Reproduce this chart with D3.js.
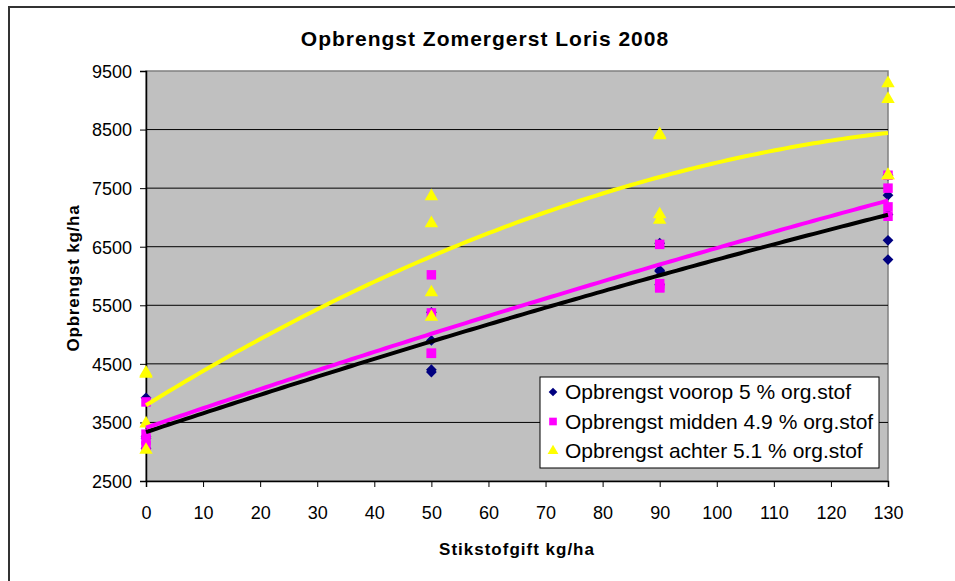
<!DOCTYPE html>
<html>
<head>
<meta charset="utf-8">
<script src="https://cdn.jsdelivr.net/npm/d3@7"></script>
<style>
  body { margin: 0; background: #fff; }
  svg { display: block; font-family: "Liberation Sans", Arial, sans-serif; }
</style>
</head>
<body>
<svg width="955" height="581"></svg>
<script>
// kg/ha per nitrogen level (some markers sit on top of each other)
const voorop = [
  [0, 3920], [0, 3260], [0, 3230], [0, 3060],
  [50, 5380], [50, 4900], [50, 4400], [50, 4360],
  [90, 6560], [90, 6100], [90, 6080], [90, 5850],
  [130, 7720], [130, 7380], [130, 7050], [130, 6610], [130, 6280]
];
const midden = [
  [0, 3850], [0, 3300], [0, 3200], [0, 3100],
  [50, 6020], [50, 5370], [50, 4680], [50, 4680],
  [90, 6540], [90, 5870], [90, 5800], [90, 5800],
  [130, 7720], [130, 7500], [130, 7180], [130, 7020]
];
const achter = [
  [0, 4350], [0, 4330], [0, 3480], [0, 3030],
  [50, 7360], [50, 6900], [50, 5720], [50, 5300],
  [90, 8420], [90, 8400], [90, 7050], [90, 6960],
  [130, 9290], [130, 9020], [130, 7720], [130, 7720]
];
const seriesNames = [
  'Opbrengst voorop 5 % org.stof',
  'Opbrengst midden 4.9 % org.stof',
  'Opbrengst achter 5.1 % org.stof'
];
const xTicks = d3.range(0, 131, 10);
const yTicks = [2500, 3500, 4500, 5500, 6500, 7500, 8500, 9500];

const svg = d3.select('svg');
const margin = { top: 71, right: 67, bottom: 100, left: 146 };
const width = 955, height = 581;
const innerWidth = width - margin.left - margin.right;
const innerHeight = height - margin.top - margin.bottom;

const x = d3.scaleLinear().domain([0, 130]).range([0, innerWidth]);
const y = d3.scaleLinear().domain([2500, 9500]).range([innerHeight, 0]);

// Excel style diamond (about as wide as tall)
const excelDiamond = {
  draw(context, size) {
    const h = Math.sqrt(size / 2);
    context.moveTo(0, -h);
    context.lineTo(h, 0);
    context.lineTo(0, h);
    context.lineTo(-h, 0);
    context.closePath();
  }
};

// outer frame (only top/left visible in the crop)
svg.append('path')
  .attr('d', 'M9,581 V7 H955')
  .attr('fill', 'none')
  .attr('stroke', '#333')
  .attr('stroke-width', 2);

const g = svg.append('g')
  .attr('transform', `translate(${margin.left},${margin.top})`);

g.append('rect')
  .attr('width', innerWidth)
  .attr('height', innerHeight)
  .attr('fill', '#c0c0c0')
  .attr('stroke', '#808080')
  .attr('stroke-width', 1.5);

// gridlines
g.selectAll('line.grid')
  .data(yTicks.slice(1, -1))
  .enter().append('line')
    .attr('x1', 0).attr('x2', innerWidth)
    .attr('y1', d => y(d)).attr('y2', d => y(d))
    .attr('stroke', '#000')
    .attr('stroke-width', 1);

// axes
const yAxis = g.append('g')
  .call(d3.axisLeft(y).tickValues(yTicks).tickSize(6).tickPadding(8).tickFormat(d3.format('d')));
const xAxis = g.append('g')
  .attr('transform', `translate(0,${innerHeight})`)
  .call(d3.axisBottom(x).tickValues(xTicks).tickSize(6).tickPadding(19).tickFormat(d3.format('d')));
[yAxis, xAxis].forEach(a => {
  a.attr('font-size', null).attr('font-family', null);
  a.select('.domain').attr('stroke', '#000').attr('stroke-width', 1.5);
  a.selectAll('.tick line').attr('stroke', '#000');
  a.selectAll('.tick text').style('font-size', '18px').attr('fill', '#000');
});
yAxis.selectAll('.tick text').attr('dy', '0.35em');

// 2nd order polynomial trendline (least squares), like Excel
function polyFit(pts) {
  const S = [0, 0, 0, 0, 0], T = [0, 0, 0];
  pts.forEach(([px, py]) => {
    for (let k = 0; k < 5; k++) S[k] += Math.pow(px, k);
    for (let k = 0; k < 3; k++) T[k] += py * Math.pow(px, k);
  });
  const A = [[S[0], S[1], S[2], T[0]], [S[1], S[2], S[3], T[1]], [S[2], S[3], S[4], T[2]]];
  for (let i = 0; i < 3; i++) {
    for (let j = i + 1; j < 3; j++) {
      const f = A[j][i] / A[i][i];
      for (let k = i; k < 4; k++) A[j][k] -= f * A[i][k];
    }
  }
  const c = [0, 0, 0];
  for (let i = 2; i >= 0; i--) {
    let s = A[i][3];
    for (let k = i + 1; k < 3; k++) s -= A[i][k] * c[k];
    c[i] = s / A[i][i];
  }
  return t => c[0] + c[1] * t + c[2] * t * t;
}

const series = [
  { name: seriesNames[0], data: voorop, color: '#000080', line: '#000000', shape: excelDiamond, size: 58 },
  { name: seriesNames[1], data: midden, color: '#ff00ff', line: '#ff00ff', shape: d3.symbolSquare, size: 90 },
  { name: seriesNames[2], data: achter, color: '#ffff00', line: '#ffff00', shape: d3.symbolTriangle, size: 78 }
];

const line = d3.line().x(d => x(d[0])).y(d => y(d[1]));

// points first, trendlines on top (as in the picture)
series.forEach(s => {
  g.append('g').selectAll('path')
    .data(s.data)
    .enter().append('path')
      .attr('d', d3.symbol().type(s.shape).size(s.size))
      .attr('transform', d => `translate(${x(d[0])},${y(d[1])})`)
      .attr('fill', s.color);
});
series.forEach(s => {
  const f = polyFit(s.data);
  const xs = d3.range(0, 130.01, 1);
  g.append('path')
    .datum(xs.map(t => [t, f(t)]))
    .attr('d', line)
    .attr('fill', 'none')
    .attr('stroke', s.line)
    .attr('stroke-width', 4);
});

// legend
const legend = svg.append('g').attr('transform', 'translate(540,377)');
legend.append('rect')
  .attr('width', 339).attr('height', 91)
  .attr('fill', '#fff').attr('stroke', '#000').attr('stroke-width', 1);
series.forEach((s, i) => {
  const row = legend.append('g').attr('transform', `translate(0,${15 + i * 29.5})`);
  row.append('path')
    .attr('d', d3.symbol().type(s.shape).size(s.size * 0.65))
    .attr('transform', 'translate(13,0)')
    .attr('fill', s.color);
  row.append('text')
    .attr('x', 25).attr('dy', '0.35em')
    .attr('font-size', 21)
    .text(s.name);
});

// titles
svg.append('text')
  .attr('x', 485).attr('y', 46)
  .attr('text-anchor', 'middle')
  .attr('font-size', 21).attr('font-weight', 'bold')
  .attr('letter-spacing', 1)
  .text('Opbrengst Zomergerst Loris 2008');
svg.append('text')
  .attr('x', 517).attr('y', 555)
  .attr('text-anchor', 'middle')
  .attr('font-size', 17).attr('font-weight', 'bold')
  .attr('letter-spacing', 1)
  .text('Stikstofgift kg/ha');
svg.append('text')
  .attr('transform', 'translate(79,278) rotate(-90)')
  .attr('text-anchor', 'middle')
  .attr('font-size', 17).attr('font-weight', 'bold')
  .attr('letter-spacing', 0.8)
  .text('Opbrengst kg/ha');
</script>
</body>
</html>
